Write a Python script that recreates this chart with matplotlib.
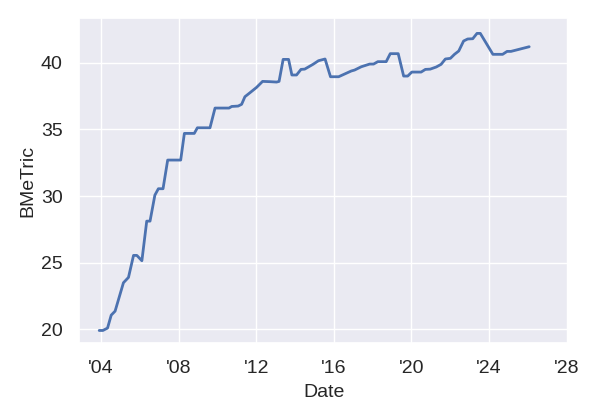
import numpy as np
import matplotlib.pyplot as plt
import seaborn as sns
from matplotlib.ticker import FuncFormatter

sns.set_theme(style="darkgrid")
plt.rcParams["font.family"] = ["Liberation Sans", "DejaVu Sans"]

# decimal years and metric values
years = [2003.91, 2004.10, 2004.34, 2004.53, 2004.73, 2005.16, 2005.42, 2005.68,
         2005.85, 2006.11, 2006.36, 2006.53, 2006.78, 2006.96, 2007.20, 2007.44,
         2008.11, 2008.30, 2008.81, 2008.97, 2009.62, 2009.88, 2010.60, 2010.74,
         2011.07, 2011.25, 2011.42, 2011.68, 2012.02, 2012.33, 2012.70, 2013.05,
         2013.18, 2013.39, 2013.67, 2013.84, 2014.08, 2014.31, 2014.50, 2014.93,
         2015.21, 2015.55, 2015.83, 2016.25, 2016.90, 2017.07, 2017.42, 2017.85,
         2018.05, 2018.27, 2018.70, 2018.91, 2019.32, 2019.60, 2019.81, 2020.02,
         2020.50, 2020.72, 2020.97, 2021.28, 2021.53, 2021.75, 2022.01, 2022.22,
         2022.44, 2022.69, 2022.90, 2023.16, 2023.38, 2023.55, 2024.20, 2024.70,
         2024.93, 2025.13, 2026.07]
bmetric = [19.92, 19.92, 20.10, 21.07, 21.37, 23.50, 23.90, 25.55,
           25.55, 25.15, 28.12, 28.12, 30.07, 30.55, 30.55, 32.70,
           32.70, 34.70, 34.70, 35.12, 35.12, 36.60, 36.60, 36.72,
           36.75, 36.88, 37.45, 37.75, 38.15, 38.60, 38.58, 38.55,
           38.60, 40.25, 40.25, 39.08, 39.08, 39.50, 39.52, 39.88,
           40.15, 40.28, 38.95, 38.95, 39.38, 39.45, 39.70, 39.90,
           39.90, 40.08, 40.08, 40.68, 40.68, 39.00, 39.00, 39.30,
           39.30, 39.50, 39.52, 39.68, 39.88, 40.28, 40.33, 40.63,
           40.88, 41.63, 41.78, 41.80, 42.20, 42.20, 40.63, 40.63,
           40.85, 40.85, 41.20]
tick_years = [2004, 2008, 2012, 2016, 2020, 2024, 2028]

fig, ax = plt.subplots(figsize=(6, 4.2), dpi=100)
fig.subplots_adjust(left=0.132, right=0.947, bottom=0.183, top=0.957)
ax.plot(years, bmetric, color="#4c72b0", lw=2.0)
ax.set_xticks(tick_years)
ax.xaxis.set_major_formatter(FuncFormatter(lambda v, p: "'%02d" % (int(round(v)) % 100)))
ax.set_yticks([20, 25, 30, 35, 40])
ax.set_xlim(2002.88, 2028.08)
ax.set_ylim(18.97, 43.35)
ax.tick_params(labelsize=14, colors="#262626", pad=6)
ax.set_xlabel("Date", fontsize=14, color="#262626", labelpad=5)
ax.set_ylabel("BMeTric", fontsize=14, color="#262626", labelpad=3)
fig.savefig("out.png", dpi=100)
